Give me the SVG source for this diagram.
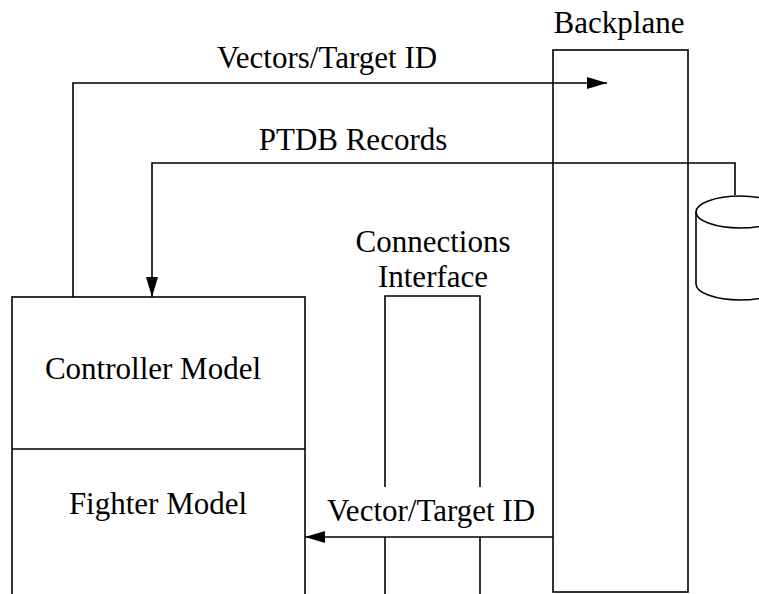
<svg xmlns="http://www.w3.org/2000/svg" width="759" height="594" viewBox="0 0 759 594">
<defs>
<style>
.ln{fill:none;stroke:#000;stroke-width:1.6}
.t{font-family:"Liberation Serif","Times New Roman",serif;font-size:31px;fill:#000;text-anchor:middle}
</style>
<marker id="ah" markerUnits="userSpaceOnUse" markerWidth="22" markerHeight="14" refX="20" refY="6" orient="auto">
<path d="M0,0 L20,6 L0,12 z" fill="#000"/>
</marker>
</defs>
<rect width="759" height="594" fill="#fff"/>
<g id="backplane">
<rect class="ln" x="553" y="50" width="135" height="542"/>
<text class="t" x="619" y="33">Backplane</text>
</g>
<g id="database">
<path class="ln" d="M696,212 L696,284 A44,16 0 0 0 784,284 L784,212"/>
<ellipse class="ln" cx="740" cy="212" rx="44" ry="16"/>
</g>
<g id="models">
<rect class="ln" x="12" y="297" width="293" height="310"/>
<line class="ln" x1="12" y1="449" x2="305" y2="449"/>
<text class="t" x="153" y="379">Controller Model</text>
<text class="t" x="158" y="514">Fighter Model</text>
</g>
<g id="connections">
<path class="ln" d="M385,487 L385,296 L480,296 L480,487"/>
<path class="ln" d="M385,537 L385,600 M480,537 L480,600"/>
<text class="t" x="433" y="252">Connections</text>
<text class="t" x="433" y="287">Interface</text>
</g>
<g id="connectors">
<path class="ln" d="M73,297 L73,83 L607,83" marker-end="url(#ah)"/>
<text class="t" x="327" y="68">Vectors/Target ID</text>
<path class="ln" d="M735,195 L735,163 L152,163 L152,297" marker-end="url(#ah)"/>
<text class="t" x="353" y="150">PTDB Records</text>
<path class="ln" d="M553,537 L305,537" marker-end="url(#ah)"/>
<text class="t" x="431" y="521">Vector/Target ID</text>
</g>
</svg>
